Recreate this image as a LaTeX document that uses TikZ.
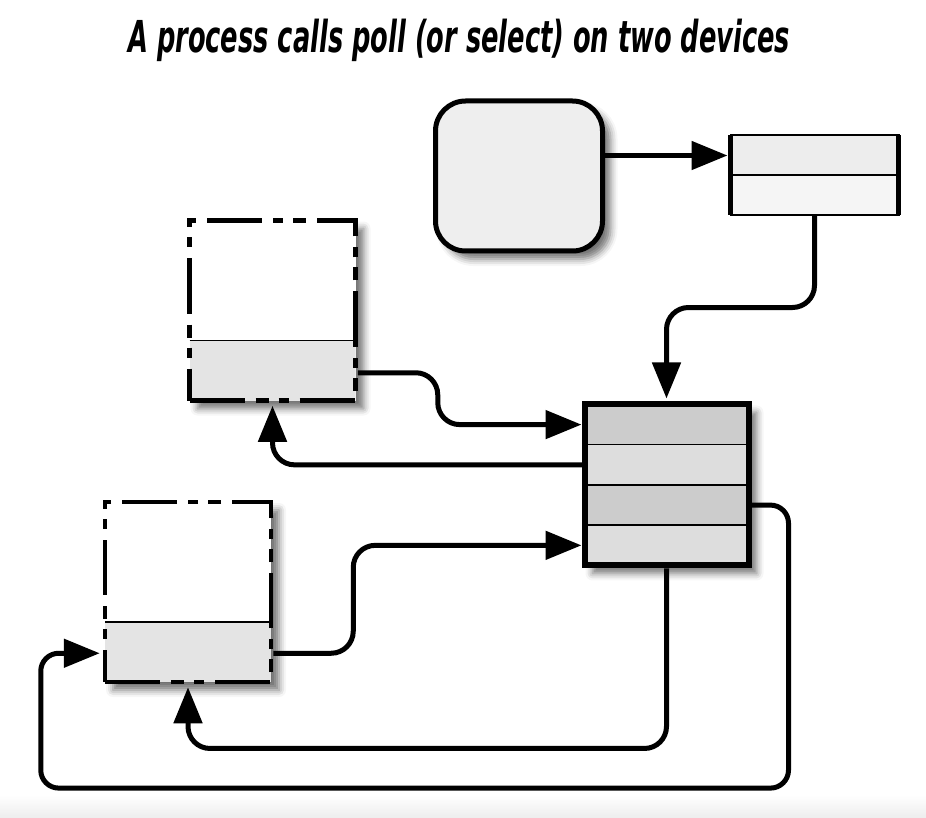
\documentclass[tikz,border=0pt]{standalone}
\usepackage{fontspec}
\usepackage{graphicx}
\newfontfamily\titlefont{DejaVu Sans Condensed}
\usetikzlibrary{arrows.meta,positioning,fit,backgrounds,shadows.blur}
\definecolor{procgray}{HTML}{EEEEEE}
\definecolor{devgray}{HTML}{E4E4E4}
\definecolor{fileA}{HTML}{EDEDED}
\definecolor{fileB}{HTML}{F5F5F5}
\definecolor{pollA}{HTML}{CCCCCC}
\definecolor{pollB}{HTML}{DDDDDD}
\begin{document}
\begin{tikzpicture}[x=1pt,y=-1pt,
  shadowed/.style={blur shadow={shadow xshift=8pt,shadow yshift=-8pt,shadow blur radius=7pt,shadow opacity=55}},
  conn/.style={line width=5pt,rounded corners=22pt,-{Triangle[length=36pt,width=28pt]},shorten >=3pt},
  procbox/.style={shadowed,draw,line width=5pt,fill=procgray,rounded corners=30pt,minimum width=167pt,minimum height=150pt,inner sep=0pt},
  devbox/.style={shadowed,draw,line width=4.5pt,dash pattern=on 55pt off 11pt on 13pt off 10pt on 10pt off 11pt,fill=white,
    minimum width=166pt,minimum height=180pt,inner sep=0pt,
    path picture={\fill[devgray] (path picture bounding box.south west) rectangle ([yshift=60pt]path picture bounding box.south east);
      \draw[solid,line width=1.5pt] ([yshift=60pt]path picture bounding box.south west) -- ([yshift=60pt]path picture bounding box.south east);}},
  filerow/.style={draw,line width=2pt,minimum width=168pt,minimum height=40pt,inner sep=0pt,outer sep=0pt},
  pollrow/.style={draw,line width=1.5pt,minimum width=164pt,minimum height=40.25pt,inner sep=0pt,outer sep=0pt}]
\useasboundingbox (0,0) rectangle (926,818);
\shade[top color=white,bottom color=black!7] (0,795) rectangle (926,818);
\node[anchor=base west,inner sep=0pt] (title) at (128,53) {\resizebox{662pt}{\height}{\titlefont\fontsize{44}{48}\selectfont\bfseries\itshape A process calls poll (or select) on two devices}};
% process and its file table
\node[procbox] (proc) at (519,176) {};
\node[filerow,fill=fileA] (f1) at (814.5,155.5) {};
\node[filerow,fill=fileB,below=0pt of f1] (f2) {};
\draw[line width=5.5pt] (f1.north west) -- (f2.south west);
\draw[line width=5.5pt] (f1.north east) -- (f2.south east);
\begin{scope}[on background layer]
\node[fit=(f1)(f2),inner sep=0pt,fill=white,shadowed] {};
\end{scope}
% the two devices
\node[devbox] (dev1) at (272.5,310.5) {};
\node[devbox] (dev2) at (188,592) {};
% poll table
\node[pollrow,fill=pollA] (p1) at (666.5,424.6) {};
\node[pollrow,fill=pollB,below=0pt of p1] (p2) {};
\node[pollrow,fill=pollA,below=0pt of p2] (p3) {};
\node[pollrow,fill=pollB,below=0pt of p3] (p4) {};
\begin{scope}[on background layer]
\node[fit=(p1)(p4),inner sep=0pt,fill=white,shadowed] {};
\end{scope}
\node[fit=(p1)(p4),inner sep=0pt,draw,line width=6pt] (poll) {};
% connectors
\draw[conn] (proc.east |- f1) -- (f1.west);
\draw[conn] (f2.south) -- ++(0,92) -| (poll.north);
\draw[conn] ([yshift=30pt]dev1.south east) -- ++(80,0) |- (p1.west);
\draw[conn] (p2.west) -| (dev1.south);
\draw[conn] ([yshift=31pt]dev2.south east) -- ++(80,0) |- (p4.west);
\draw[conn] (poll.south) -- ++(0,180) -| (dev2.south);
\draw[conn,rounded corners=18pt] (p3.east) -- ++(40,0) -- ++(0,283) -| ([xshift=-62pt,yshift=31pt]dev2.south west) -- ([yshift=31pt]dev2.south west);
\end{tikzpicture}
\end{document}
